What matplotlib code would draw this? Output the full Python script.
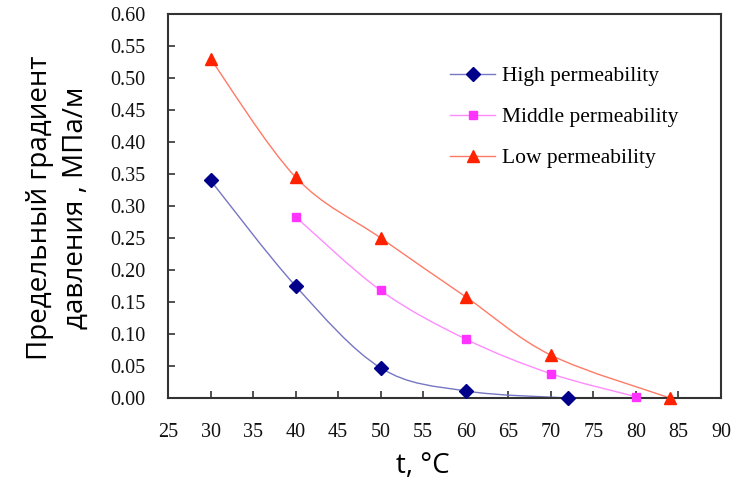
import matplotlib
matplotlib.use("Agg")
import matplotlib.pyplot as plt
from matplotlib.path import Path
from matplotlib.patches import PathPatch
from matplotlib.lines import Line2D
import numpy as np

# ── Data ──────────────────────────────────────────────────────────────────────
t_high = [30, 40, 50, 60, 72]
g_high = [0.340, 0.175, 0.047, 0.011, 0.000]

t_mid = [40, 50, 60, 70, 80]
g_mid = [0.283, 0.168, 0.092, 0.038, 0.002]

t_low = [30, 40, 50, 60, 70, 84]
g_low = [0.530, 0.345, 0.250, 0.158, 0.067, 0.000]

x_ticks = list(range(25, 95, 5))
y_ticks = [i * 0.05 for i in range(13)]

SERIES = [
    ("High permeability",   t_high, g_high, "#00008B", "#7676C4", "D", 7),
    ("Middle permeability", t_mid,  g_mid,  "#FF33FF", "#FF8CFF", "s", 6.3),
    ("Low permeability",    t_low,  g_low,  "#FF2200", "#FF7A66", "^", 8),
]

W, H = 756, 484


def smooth_path(xs, ys, k=1 / 6):
    # smoothed line: cubic Bezier segments with Catmull-Rom tangents
    pts = np.column_stack([xs, ys]).astype(float)
    verts = [pts[0]]
    codes = [Path.MOVETO]
    n = len(pts)
    for i in range(n - 1):
        p0 = pts[i - 1] if i > 0 else pts[i]
        p1, p2 = pts[i], pts[i + 1]
        p3 = pts[i + 2] if i + 2 < n else pts[i + 1]
        c1 = p1 + (p2 - p0) * k
        c2 = p2 - (p3 - p1) * k
        verts += [c1, c2, p2]
        codes += [Path.CURVE4] * 3
    return Path(verts, codes)


fig = plt.figure(figsize=(W / 100, H / 100), dpi=100)
ax = fig.add_axes([168 / W, 1 - 398 / H, (721 - 168) / W, (398 - 14) / H])

for label, xs, ys, mc, lc, mk, ms in SERIES:
    ax.add_patch(PathPatch(smooth_path(xs, ys), facecolor="none",
                           edgecolor=lc, linewidth=1.0, zorder=2))
    ax.plot(xs, ys, linestyle="none", marker=mk, markersize=ms,
            color=mc, markeredgecolor=mc, zorder=3, clip_on=False)

ax.set_xlim(25, 90)
ax.set_ylim(0, 0.60)
ax.set_xticks(x_ticks)
ax.set_yticks(y_ticks)
ax.set_yticklabels([f"{v:.2f}" for v in y_ticks])

for lab in ax.get_xticklabels() + ax.get_yticklabels():
    lab.set_fontfamily("Liberation Serif")
    lab.set_fontsize(14.5)
    lab.set_color("#111111")

ax.tick_params(direction="in", length=5, width=1.2, color="#333333")
ax.tick_params(axis="x", pad=18)
ax.tick_params(axis="y", pad=16)
for s in ax.spines.values():
    s.set_edgecolor("#333333")
    s.set_linewidth(1.5)

# axis titles
fig.text(423 / W, 1 - 466 / H, "t, °C", fontfamily="Open Sans", fontsize=20,
         ha="center", va="center")
fig.text(58 / W, 1 - 208 / H, "Предельный градиент\nдавления , МПа/м",
         fontfamily="Open Sans", fontsize=20, rotation=90,
         ha="center", va="center", linespacing=1.36, multialignment="center")

handles = [
    Line2D([], [], color=lc, linewidth=1.0, marker=mk, markersize=ms,
           markerfacecolor=mc, markeredgecolor=mc)
    for _, _, _, mc, lc, mk, ms in SERIES
]
ax.legend(handles, [s[0] for s in SERIES], loc="upper left",
          bbox_to_anchor=(450 / W, 1 - 66 / H), bbox_transform=fig.transFigure,
          frameon=False, borderpad=0, borderaxespad=0,
          prop={"family": "Liberation Serif", "size": 15.5},
          handlelength=2.1, handletextpad=0.33, labelspacing=0.98)

fig.savefig("out.png", dpi=100, facecolor="white")
